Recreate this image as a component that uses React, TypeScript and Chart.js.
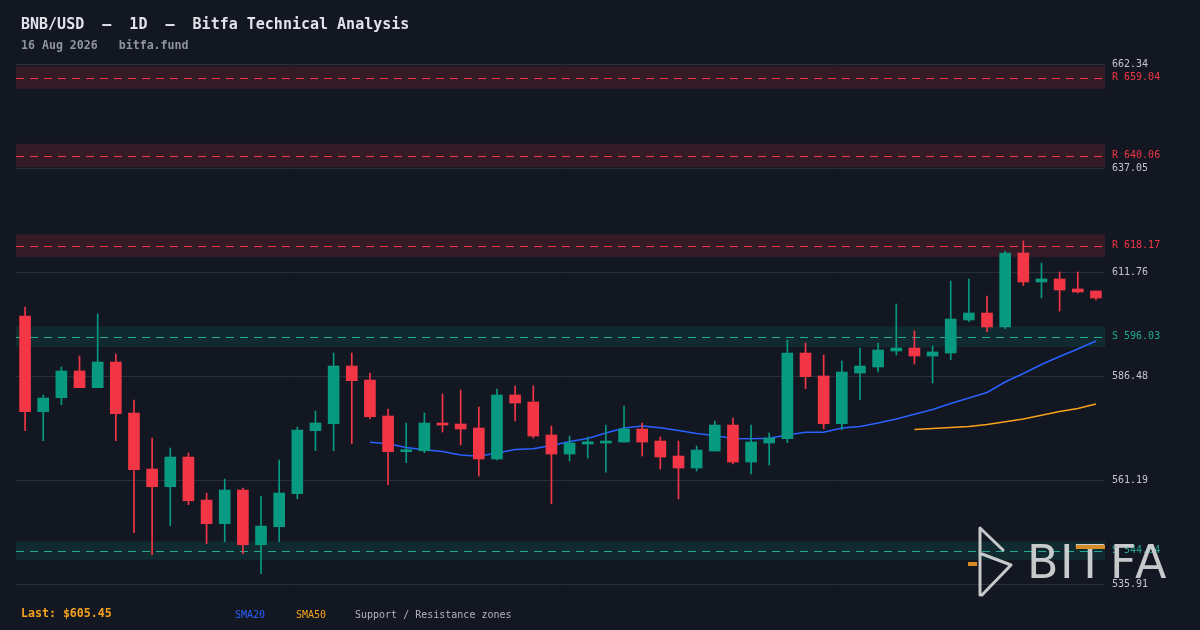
import React, { useEffect, useRef } from "react";
import { Chart, registerables } from "chart.js";

Chart.register(...registerables);

const dates = Array.from({ length: 60 }, (_, i) => `D${i + 1}`);

const openP = [
  601.07, 577.8, 581.2, 587.7, 583.64, 589.88, 577.48, 563.86, 559.56, 566.78,
  556.32, 550.56, 558.76, 545.45, 549.83, 557.86, 573.18, 574.88, 588.91, 585.51,
  576.75, 568.07, 568.31, 575.05, 574.81, 573.83, 566.3, 581.86, 580.16, 572.13,
  567.51, 569.94, 570.19, 570.43, 573.59, 570.67, 567.02, 564.11, 568.24, 574.56,
  565.57, 570.19, 571.23, 592.07, 586.48, 574.88, 587.21, 588.67, 592.56, 593.29,
  591.34, 592.07, 600.1, 601.8, 598.4, 616.39, 609.34, 610.07, 607.64, 607.15,
];
const highP = [
  603.26, 581.86, 588.67, 591.34, 601.56, 591.83, 580.64, 571.4, 568.97, 567.76,
  558.03, 561.43, 559.24, 557.3, 566.05, 574.08, 577.97, 592.07, 592.07, 587.21,
  578.46, 575.05, 577.48, 582.1, 583.07, 578.94, 583.32, 584.05, 584.05, 574.32,
  571.89, 571.65, 574.56, 579.18, 575.05, 571.65, 570.67, 569.46, 575.54, 576.27,
  574.56, 572.62, 595.23, 594.5, 591.59, 590.13, 593.29, 594.5, 603.99, 597.42,
  593.78, 609.58, 610.07, 605.94, 616.88, 619.31, 613.96, 611.77, 611.77, 607.2,
];
const lowP = [
  573.18, 570.75, 579.5, 583.6, 583.6, 570.75, 548.37, 543.02, 550.07, 555.18,
  545.7, 546.18, 543.26, 538.4, 546.18, 556.64, 568.31, 568.31, 570.02, 576.1,
  560.04, 565.4, 567.83, 572.86, 569.7, 562.16, 566.05, 575.54, 571.4, 555.42,
  565.81, 566.54, 563.13, 570.4, 567.02, 563.86, 556.57, 563.38, 568.2, 565.08,
  562.65, 564.84, 570.26, 583.39, 573.66, 573.42, 580.72, 587.45, 591.59, 589.4,
  584.78, 590.44, 599.69, 597.25, 597.98, 608.44, 605.45, 602.29, 606.67, 604.97,
];
const closeP = [
  577.8, 581.13, 587.7, 583.64, 589.88, 577.31, 563.7, 559.56, 566.78, 556.15,
  550.56, 558.76, 545.45, 549.98, 558.03, 573.35, 575.05, 588.91, 585.34, 576.58,
  568.07, 568.56, 575.05, 574.56, 573.59, 566.3, 581.86, 579.91, 571.89, 567.51,
  570.19, 570.5, 570.67, 573.59, 570.43, 566.78, 564.11, 568.48, 574.56, 565.57,
  570.43, 571.4, 592.07, 586.31, 574.88, 587.45, 588.91, 592.8, 593.29, 591.34,
  592.32, 600.34, 601.8, 598.4, 616.39, 609.34, 610.07, 607.39, 606.91, 605.45,
];

const sma20 = [
  null, null, null, null, null, null, null, null, null, null,
  null, null, null, null, null, null, null, null, null, 570.4,
  570.0, 569.1, 568.56, 568.12, 567.27, 566.95, 567.75, 568.6, 568.8, 569.58,
  570.55, 571.28, 572.62, 573.83, 574.32, 573.9, 573.23, 572.5, 572.0, 571.28,
  571.23, 571.33, 572.13, 572.79, 572.79, 573.83, 574.2, 575.05, 576.02, 577.17,
  578.33, 579.79, 581.13, 582.47, 585.02, 587.09, 589.28, 591.22, 593.05, 595.0,
];
const sma50 = [
  null, null, null, null, null, null, null, null, null, null,
  null, null, null, null, null, null, null, null, null, null,
  null, null, null, null, null, null, null, null, null, null,
  null, null, null, null, null, null, null, null, null, null,
  null, null, null, null, null, null, null, null, null, 573.46,
  573.73, 573.95, 574.2, 574.7, 575.37, 576.02, 576.92, 577.85, 578.58, 579.67,
];

const priceTicks = [662.34, 637.05, 611.76, 586.48, 561.19, 535.91];
const zoneLevels = [659.04, 640.06, 618.17, 596.03, 544.04];
const zoneKinds = ["R", "R", "R", "S", "S"];
const zoneLow = [656.3, 637.2, 615.4, 593.5, 541.8];
const zoneHigh = [661.8, 642.9, 620.9, 598.55, 546.3];

const yMin = 535.91;
const yMax = 662.34;

const UP = "#089981";
const DOWN = "#f23645";
const BG = "#131722";
const FONT = "'DejaVu Sans Mono', monospace";

const zonePlugin = {
  id: "zones",
  beforeDatasetsDraw(chart: any) {
    const { ctx, chartArea, scales } = chart;
    const y = scales.y;
    ctx.save();
    zoneLevels.forEach((lvl, i) => {
      const top = y.getPixelForValue(zoneHigh[i]);
      const bot = y.getPixelForValue(zoneLow[i]);
      const isR = zoneKinds[i] === "R";
      ctx.fillStyle = isR ? "rgba(242,54,69,0.15)" : "rgba(8,153,129,0.15)";
      ctx.fillRect(chartArea.left, top, chartArea.right - chartArea.left, bot - top);
      const yy = Math.round(y.getPixelForValue(lvl)) + 0.5;
      ctx.strokeStyle = isR ? "#f23645" : "#22ab94";
      ctx.lineWidth = 1;
      ctx.setLineDash([8, 6]);
      ctx.beginPath();
      ctx.moveTo(chartArea.left, yy);
      ctx.lineTo(chartArea.right, yy);
      ctx.stroke();
    });
    ctx.restore();
  },
};

const watermarkPlugin = {
  id: "watermark",
  afterDraw(chart: any) {
    const ctx = chart.ctx;
    ctx.save();
    const c = "rgba(220,220,220,0.9)";
    ctx.strokeStyle = c;
    ctx.lineWidth = 3;
    ctx.lineCap = "round";
    ctx.lineJoin = "round";
    ctx.setLineDash([]);
    ctx.beginPath();
    ctx.moveTo(980, 595);
    ctx.lineTo(980, 528);
    ctx.lineTo(1003, 550);
    ctx.stroke();
    ctx.beginPath();
    ctx.moveTo(982, 554);
    ctx.lineTo(1011, 565);
    ctx.lineTo(982, 595);
    ctx.stroke();
    ctx.fillStyle = "#d68c24";
    ctx.fillRect(968, 562, 9, 4);
    ctx.fillStyle = c;
    ctx.font = "46px 'DejaVu Sans'";
    ctx.textBaseline = "alphabetic";
    ctx.textAlign = "left";
    const letters: [string, number][] = [
      ["B", 1027],
      ["I", 1060],
      ["T", 1076],
      ["F", 1110],
      ["A", 1135],
    ];
    letters.forEach(([ch, x]) => ctx.fillText(ch, x, 578));
    ctx.fillStyle = "#d68c24";
    ctx.fillRect(1076, 545, 29, 4);
    ctx.restore();
  },
};

function labelFor(v: number): string {
  const zi = zoneLevels.indexOf(v);
  if (zi >= 0) return `${zoneKinds[zi]} ${v.toFixed(2)}`;
  return v.toFixed(2);
}

export default function App() {
  const ref = useRef<HTMLCanvasElement | null>(null);

  useEffect(() => {
    if (!ref.current) return;
    const bodyColors = openP.map((o, i) => (closeP[i] >= o ? UP : DOWN));
    const chart = new Chart(ref.current, {
      type: "bar",
      data: {
        labels: dates,
        datasets: [
          {
            type: "line",
            label: "SMA20",
            data: sma20 as any,
            borderColor: "#2962ff",
            borderWidth: 1.5,
            pointRadius: 0,
            tension: 0,
            spanGaps: false,
            order: 4,
          } as any,
          {
            type: "line",
            label: "SMA50",
            data: sma50 as any,
            borderColor: "#f7a21b",
            borderWidth: 1.5,
            pointRadius: 0,
            tension: 0,
            spanGaps: false,
            order: 3,
          } as any,
          {
            type: "bar",
            label: "wicks",
            data: lowP.map((l, i) => [l, highP[i]]) as any,
            backgroundColor: bodyColors,
            barThickness: 1,
            grouped: false,
            borderWidth: 0,
            order: 2,
          } as any,
          {
            type: "bar",
            label: "bodies",
            data: openP.map((o, i) => [o, closeP[i]]) as any,
            backgroundColor: bodyColors,
            barThickness: 11,
            grouped: false,
            borderWidth: 0,
            order: 1,
          } as any,
        ],
      },
      options: {
        animation: false,
        responsive: false,
        devicePixelRatio: 1,
        layout: { padding: { left: 16, top: 64, bottom: 46, right: 0 } },
        plugins: {
          legend: { display: false },
          tooltip: { enabled: false },
        },
        scales: {
          x: {
            type: "category",
            display: false,
            offset: true,
            grid: { display: false },
          },
          y: {
            type: "linear",
            position: "right",
            min: yMin,
            max: yMax,
            border: { display: false },
            afterBuildTicks: (scale: any) => {
              const all = [...priceTicks, ...zoneLevels].sort((a, b) => b - a);
              scale.ticks = all.map((v) => ({ value: v }));
            },
            afterFit: (scale: any) => {
              scale.width = 95;
            },
            grid: {
              drawTicks: false,
              lineWidth: 1,
              color: (ctx: any) =>
                ctx.tick && priceTicks.includes(ctx.tick.value) ? "#2a2e39" : "rgba(0,0,0,0)",
            },
            ticks: {
              autoSkip: false,
              padding: 7,
              font: { family: FONT, size: 10 },
              color: (ctx: any) => {
                const v = ctx.tick ? ctx.tick.value : 0;
                const zi = zoneLevels.indexOf(v);
                if (zi < 0) return "#c3c6ce";
                return zoneKinds[zi] === "R" ? "#f23645" : "#22ab94";
              },
              callback: (value: any) => labelFor(Number(value)),
            },
          },
        },
      } as any,
      plugins: [zonePlugin, watermarkPlugin],
    });
    return () => chart.destroy();
  }, []);

  const txt = (extra: React.CSSProperties): React.CSSProperties => ({
    position: "absolute",
    whiteSpace: "pre",
    fontFamily: FONT,
    ...extra,
  });

  return (
    <div
      style={{
        position: "fixed",
        left: 0,
        top: 0,
        width: 1200,
        height: 630,
        background: BG,
        overflow: "hidden",
      }}
    >
      <canvas ref={ref} width={1200} height={630} style={{ position: "absolute", left: 0, top: 0, width: 1200, height: 630 }} />
      <div style={txt({ left: 21, top: 15, fontSize: 15, lineHeight: "18px", fontWeight: "bold", color: "#e1e4ea" })}>
        {"BNB/USD  —  1D  —  Bitfa Technical Analysis"}
      </div>
      <div style={txt({ left: 21, top: 38, fontSize: 11.6, lineHeight: "14px", fontWeight: "bold", color: "#8f949e" })}>
        {"16 Aug 2026   bitfa.fund"}
      </div>
      <div style={txt({ left: 21, top: 606, fontSize: 11.6, lineHeight: "14px", fontWeight: "bold", color: "#f7a21b" })}>
        {"Last: $605.45"}
      </div>
      <div style={txt({ left: 235, top: 608, fontSize: 10, lineHeight: "13px", color: "#2962ff" })}>{"SMA20"}</div>
      <div style={txt({ left: 296, top: 608, fontSize: 10, lineHeight: "13px", color: "#f7a21b" })}>{"SMA50"}</div>
      <div style={txt({ left: 355, top: 608, fontSize: 10, lineHeight: "13px", color: "#b2b5be" })}>
        {"Support / Resistance zones"}
      </div>
    </div>
  );
}
